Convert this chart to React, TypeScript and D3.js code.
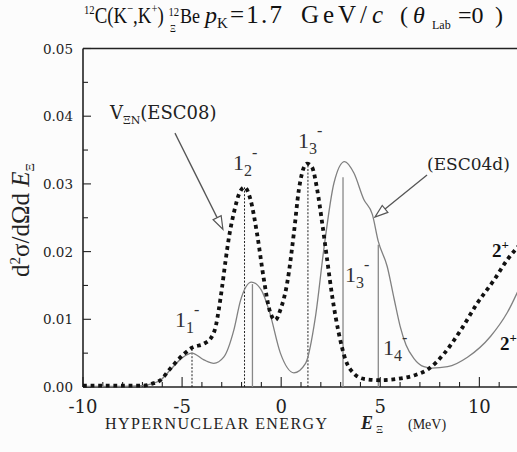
import React from "react";
import * as d3 from "d3";

// ESC08 (dotted) curve
const esc08E = [-10, -8, -7, -6.5, -6.1, -5.6, -4.9, -4.5, -3.9, -3.55, -3.3, -3.15, -2.98, -2.8, -2.63, -2.39, -2.14, -1.85, -1.55, -1.21, -0.88, -0.6, -0.3, -0.04, 0.3, 0.64, 0.89, 1.3, 1.55, 1.82, 2.07, 2.32, 2.58, 2.91, 3.25, 3.67, 4.17, 5.0, 5.86, 6.7, 7.45, 8.21, 9.06, 9.9, 10.74, 11.41, 12.2];
const esc08V = [0.0002, 0.0002, 0.0002, 0.0005, 0.001, 0.0027, 0.0049, 0.0058, 0.0064, 0.0072, 0.009, 0.0114, 0.0148, 0.0188, 0.0222, 0.0257, 0.0284, 0.0295, 0.0277, 0.0225, 0.016, 0.0115, 0.0099, 0.0114, 0.0153, 0.0227, 0.0291, 0.033, 0.0325, 0.0291, 0.0242, 0.0188, 0.0133, 0.0079, 0.004, 0.002, 0.0012, 0.001, 0.0012, 0.0017, 0.0027, 0.0049, 0.0084, 0.0124, 0.0158, 0.0188, 0.0215];

// ESC04d (solid) curve
const esc04E = [-10, -8, -7, -6.5, -6.1, -5.6, -5.0, -4.5, -3.9, -3.4, -2.9, -2.39, -2.05, -1.5, -1.0, -0.6, -0.04, 0.64, 1.23, 1.73, 2.15, 2.66, 3.2, 3.67, 4.17, 4.6, 4.9, 5.35, 5.7, 6.0, 6.3, 6.7, 7.2, 7.6, 8.4, 9.4, 10.57, 11.41, 12.2];
const esc04V = [0.0001, 0.0001, 0.0002, 0.0005, 0.001, 0.0025, 0.0043, 0.005, 0.004, 0.0035, 0.0044, 0.0084, 0.0128, 0.0155, 0.0143, 0.0112, 0.005, 0.0021, 0.0035, 0.0104, 0.0203, 0.0301, 0.0333, 0.0316, 0.0277, 0.0255, 0.0215, 0.0178, 0.013, 0.009, 0.0062, 0.0042, 0.003, 0.0028, 0.003, 0.0044, 0.0075, 0.011, 0.0158];

// state lines
const dottedLineE = [-4.5, -1.85, 1.35];
const dottedLineH = [0.0058, 0.0295, 0.033];
const solidLineE = [-1.45, 3.12, 4.9];
const solidLineH = [0.0152, 0.031, 0.021];

// state labels
const stateLabelE = [-5.36, -2.43, 0.85, 3.22, 5.14];
const stateLabelV = [0.0089, 0.032, 0.0353, 0.0155, 0.0047];
const stateLabelSub = ["1", "2", "3", "3", "4"];

const plusLabelE = [10.64, 11.04];
const plusLabelV = [0.0192, 0.0055];

const xTicksMajor = [-10, -5, 0, 5, 10];
const xTickLabels = ["-10", "-5", "0", "5", "10"];
const yTicksMajor = [0, 0.01, 0.02, 0.03, 0.04, 0.05];
const yTickLabels = ["0.00", "0.01", "0.02", "0.03", "0.04", "0.05"];

const W = 517;
const H = 452;
const serif = "'Liberation Serif', serif";
const wide = "'DejaVu Serif', serif";

export default function App() {
  const x = d3.scaleLinear().domain([-10, 12]).range([83, 519]);
  const y = d3.scaleLinear().domain([0, 0.05]).range([387, 48.5]);

  const line = d3
    .line<[number, number]>()
    .x((d) => x(d[0]))
    .y((d) => y(d[1]))
    .curve(d3.curveMonotoneX);

  const esc08 = esc08E.map((e, i) => [e, esc08V[i]] as [number, number]);
  const esc04 = esc04E.map((e, i) => [e, esc04V[i]] as [number, number]);

  const xMinor = d3.range(-10, 13, 1);
  const yMinor = d3.range(0, 0.0501, 0.005);

  const arrow = (x1: number, y1: number, x2: number, y2: number, key: string) => {
    const X1 = x(x1), Y1 = y(y1), X2 = x(x2), Y2 = y(y2);
    const ang = Math.atan2(Y2 - Y1, X2 - X1);
    const L = 13, Wd = 4.5;
    const bx = X2 - L * Math.cos(ang), by = Y2 - L * Math.sin(ang);
    const px = -Math.sin(ang) * Wd, py = Math.cos(ang) * Wd;
    return (
      <g key={key}>
        <line x1={X1} y1={Y1} x2={bx} y2={by} stroke="#555" strokeWidth={1.3} />
        <polygon
          points={`${X2},${Y2} ${bx + px},${by + py} ${bx - px},${by - py}`}
          fill="#fff"
          stroke="#555"
          strokeWidth={1.2}
        />
      </g>
    );
  };

  return (
    <svg
      width={W}
      height={H}
      style={{ position: "absolute", left: 0, top: 0, background: "#fcfcfc" }}
    >
      {/* title */}
      <g transform="translate(84,23) scale(0.82,1)">
        <text x={0} y={0} fontSize={23} fill="#111" fontFamily={serif}>
          <tspan fontSize={13} dy={-9}>12</tspan>
          <tspan dy={9}>C(K</tspan>
          <tspan fontSize={13} dy={-10}>−</tspan>
          <tspan dy={10}>,K</tspan>
          <tspan fontSize={13} dy={-10}>+</tspan>
          <tspan dy={10}>)</tspan>
        </text>
        <text x={103} y={-7} fontSize={13} fill="#111" fontFamily={serif}>
          12
        </text>
        <text x={105} y={9} fontSize={11} fill="#111" fontFamily={serif}>
          Ξ
        </text>
        <text x={117} y={0} fontSize={22} fill="#111" fontFamily={serif}>
          Be
        </text>
      </g>
      <text y={23} fontSize={24} fill="#111" fontFamily={serif}>
        <tspan x={205} fontStyle="italic">p</tspan>
        <tspan x={217} fontSize={15} dy={5}>K</tspan>
      </text>
      <text x={230} y={23} fontSize={25} fill="#111" fontFamily={serif} textLength={52} lengthAdjust="spacing">
        =1.7
      </text>
      <text x={301} y={23} fontSize={25} fill="#111" fontFamily={serif} textLength={66} lengthAdjust="spacing">
        GeV/
      </text>
      <text x={372} y={23} fontSize={25} fill="#111" fontFamily={serif} fontStyle="italic">
        c
      </text>
      <text y={23} fontSize={24} fill="#111" fontFamily={serif}>
        <tspan x={400}>(</tspan>
        <tspan x={413} fontStyle="italic">θ</tspan>
        <tspan x={432} fontSize={12} dy={6}>Lab</tspan>
        <tspan x={458} dy={-6}>=0</tspan>
        <tspan x={495}>)</tspan>
      </text>

      {/* axes frame */}
      <line x1={x(-10)} y1={y(0.05)} x2={W} y2={y(0.05)} stroke="#222" strokeWidth={1.6} />
      <line x1={x(-10)} y1={y(0)} x2={W} y2={y(0)} stroke="#222" strokeWidth={1.6} />
      <line x1={x(-10)} y1={y(0)} x2={x(-10)} y2={y(0.05)} stroke="#222" strokeWidth={1.6} />

      {/* x ticks */}
      {xMinor.map((t) => (
        <line
          key={"xm" + t}
          x1={x(t)}
          x2={x(t)}
          y1={y(0)}
          y2={y(0) - (t % 5 === 0 ? 10 : 5)}
          stroke="#222"
          strokeWidth={1.1}
        />
      ))}
      {xTicksMajor.map((t, i) => (
        <text
          key={"xl" + t}
          x={x(t)}
          y={413}
          fontSize={18}
          textAnchor="middle"
          fill="#222"
          fontFamily={wide}
        >
          {xTickLabels[i]}
        </text>
      ))}

      {/* y ticks */}
      {yMinor.map((t, i) => (
        <line
          key={"ym" + i}
          x1={x(-10)}
          x2={x(-10) + (i % 2 === 0 ? 8 : 5)}
          y1={y(t)}
          y2={y(t)}
          stroke="#222"
          strokeWidth={1.1}
        />
      ))}
      {yTicksMajor.map((t, i) => (
        <text
          key={"yl" + t}
          x={73}
          y={y(t) + 5}
          fontSize={13.5}
          textAnchor="end"
          fill="#222"
          fontFamily={wide}
        >
          {yTickLabels[i]}
        </text>
      ))}

      {/* axis titles */}
      <text
        transform={`translate(29,220) rotate(-90)`}
        fontSize={25}
        textAnchor="middle"
        fill="#222"
        fontFamily={serif}
      >
        <tspan>d</tspan>
        <tspan fontSize={15} dy={-9}>2</tspan>
        <tspan dy={9}>σ/dΩd</tspan>
        <tspan fontStyle="italic"> E</tspan>
        <tspan fontSize={13} dy={5}>Ξ</tspan>
      </text>
      <text
        x={105}
        y={429}
        fontSize={16}
        fill="#222"
        fontFamily={serif}
        textLength={222}
        lengthAdjust="spacing"
      >
        HYPERNUCLEAR ENERGY
      </text>
      <text x={361} y={429} fontSize={18} fontWeight="bold" fontStyle="italic" fill="#222" fontFamily={serif}>
        E
      </text>
      <text x={376} y={433} fontSize={11} fill="#222" fontFamily={serif}>
        Ξ
      </text>
      <text x={408} y={429} fontSize={14} fill="#222" fontFamily={serif}>
        (MeV)
      </text>

      {/* vertical state lines */}
      {solidLineE.map((e, i) => (
        <line
          key={"sl" + i}
          x1={x(e)}
          x2={x(e)}
          y1={y(0)}
          y2={y(solidLineH[i])}
          stroke="#888"
          strokeWidth={1.3}
        />
      ))}
      {dottedLineE.map((e, i) => (
        <line
          key={"dl" + i}
          x1={x(e)}
          x2={x(e)}
          y1={y(0)}
          y2={y(dottedLineH[i])}
          stroke="#222"
          strokeWidth={1}
          strokeDasharray="2,1.6"
        />
      ))}

      {/* curves */}
      <path d={line(esc04) || ""} fill="none" stroke="#808080" strokeWidth={1.3} />
      <path
        d={line(esc08) || ""}
        fill="none"
        stroke="#111"
        strokeWidth={3.8}
        strokeDasharray="3.8,3.8"
      />

      {/* state labels */}
      {stateLabelE.map((e, i) => (
        <text
          key={"st" + i}
          x={x(e)}
          y={y(stateLabelV[i])}
          fontSize={22}
          fill="#333"
          fontFamily={serif}
        >
          <tspan>1</tspan>
          <tspan fontSize={16} dy={6}>{stateLabelSub[i]}</tspan>
          <tspan fontSize={16} dy={-18}>-</tspan>
        </text>
      ))}
      {plusLabelE.map((e, i) => (
        <text
          key={"pl" + i}
          x={x(e)}
          y={y(plusLabelV[i])}
          fontSize={19}
          fontWeight="bold"
          fill="#111"
          fontFamily={serif}
        >
          <tspan>2</tspan>
          <tspan fontSize={13} dy={-8}>+</tspan>
        </text>
      ))}

      {/* annotations */}
      <text x={x(-8.64)} y={y(0.0396)} fontSize={18} fill="#222" fontFamily={wide}>
        <tspan>V</tspan>
        <tspan fontSize={11} dy={5}>ΞN</tspan>
        <tspan dy={-5}>(ESC08)</tspan>
      </text>
      {arrow(-5.36, 0.0375, -2.94, 0.0233, "a1")}
      <text x={x(7.36)} y={y(0.0321)} fontSize={17} fill="#222" fontFamily={wide}>
        (ESC04d)
      </text>
      {arrow(7.36, 0.0313, 4.73, 0.0251, "a2")}
    </svg>
  );
}
